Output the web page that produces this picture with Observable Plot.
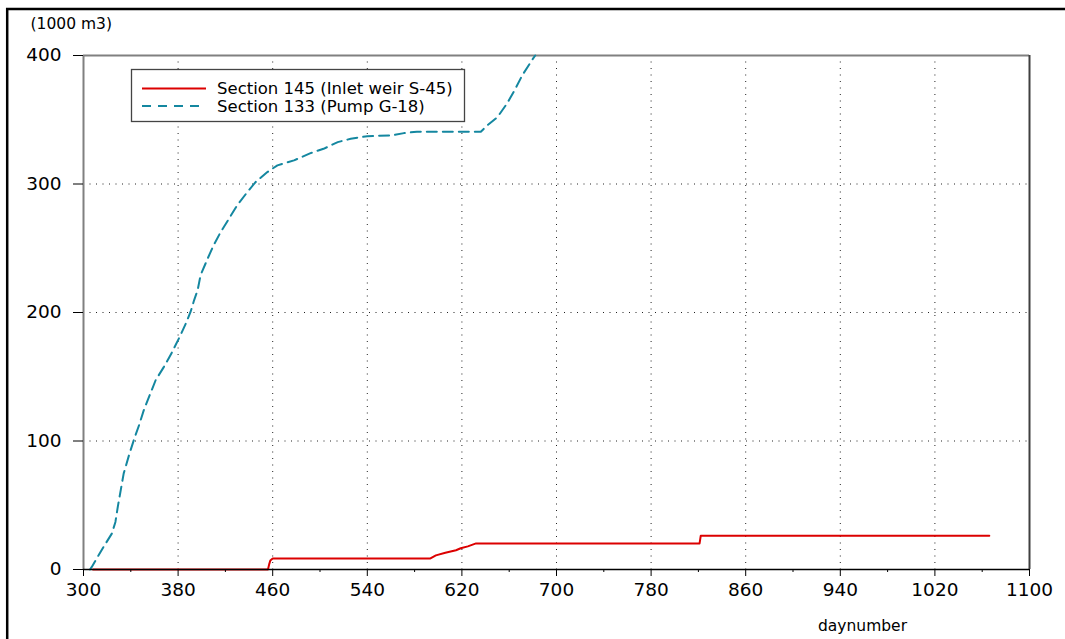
<!DOCTYPE html>
<html>
<head>
<meta charset="utf-8">
<script src="https://cdn.jsdelivr.net/npm/d3@7"></script>
<script src="https://cdn.jsdelivr.net/npm/@observablehq/plot@0.6"></script>
<style>
  html, body { margin: 0; padding: 0; background: #fff; }
  #chart { width: 1065px; height: 639px; overflow: hidden; }
</style>
</head>
<body>
<div id="chart"></div>
<script>
// Section 145 (Inlet weir S-45)
const redDays = [308, 456, 457, 458, 460, 593, 598, 606, 615, 619, 625, 632, 821, 822, 1066];
const redVals = [0, 0, 4, 7, 8.5, 8.5, 11, 13, 15, 16.5, 18, 20.3, 20.3, 26.3, 26.3];

// Section 133 (Pump G-18)
const blueDays = [305.5, 307, 317, 324, 327, 329, 331.5, 334, 338.5, 343, 347, 351, 356, 361, 368, 375, 382, 386.5, 390.5, 393.5, 396.5, 399, 405, 410, 416, 423, 430, 438.5, 445.5, 455.5, 464, 478, 492, 503, 515, 526, 540, 560, 571, 582, 636, 641.5, 650, 658, 664, 671, 680, 682];
const blueVals = [0, 2, 17.7, 28, 37, 48.8, 61.8, 74.8, 89, 102, 112.3, 124, 135.7, 147.3, 157.7, 169.3, 182.3, 191.4, 200.4, 209.5, 217.3, 229, 242, 252.3, 262.6, 273, 283.4, 293.7, 301.5, 309.3, 314.5, 318.4, 324, 327.4, 332.6, 335.2, 337.2, 337.8, 339.6, 340.7, 340.7, 345.6, 352, 362.4, 372, 384.5, 397.4, 400];

const xTicks = [300, 380, 460, 540, 620, 700, 780, 860, 940, 1020, 1100];
const xMinorTicks = [340, 420, 500, 580, 660, 740, 820, 900, 980, 1060];
const yTicks = [0, 100, 200, 300, 400];
const seriesNames = ["Section 145 (Inlet weir S-45)", "Section 133 (Pump G-18)"];
const seriesColors = ["#dc0000", "#1487a0"];
const yUnit = "(1000 m3)";
const xTitle = "daynumber";

const red = redDays.map((d, i) => ({day: d, v: redVals[i]}));
const blue = blueDays.map((d, i) => ({day: d, v: blueVals[i]}));

const chart = Plot.plot({
  width: 1065,
  height: 639,
  marginLeft: 83,
  marginRight: 36,
  marginTop: 55,
  marginBottom: 70,
  style: {fontFamily: "DejaVu Sans", fontSize: "18.5px", background: "white", overflow: "visible"},
  x: {domain: [300, 1100]},
  y: {domain: [0, 400]},
  marks: [
    Plot.gridX(xTicks.slice(1, -1), {stroke: "#222", strokeOpacity: 1, strokeDasharray: "1,5.5"}),
    Plot.gridY(yTicks.slice(1, -1), {stroke: "#222", strokeOpacity: 1, strokeDasharray: "1,5.5"}),
    Plot.ruleY([400], {stroke: "#808080", strokeWidth: 2}),
    Plot.ruleX([1100], {stroke: "#404040", strokeWidth: 2}),
    Plot.line(blue, {x: "day", y: "v", stroke: seriesColors[1], strokeWidth: 2, strokeDasharray: "10,6"}),
    Plot.line(red, {x: "day", y: "v", stroke: seriesColors[0], strokeWidth: 2}),
    Plot.ruleX([300], {stroke: "#808080", strokeWidth: 2}),
    Plot.ruleY([0], {stroke: "#000", strokeWidth: 1.5}),
    Plot.axisX(xTicks, {tickSize: 7, tickPadding: 6.5, label: null, fontSize: 18.5, tickFormat: d => String(d)}),
    Plot.axisX(xMinorTicks, {tickSize: 3, tickFormat: () => "", label: null}),
    Plot.axisY(yTicks, {tickSize: 10, tickPadding: 12, label: null, fontSize: 18.5, tickFormat: d => String(d)}),
    Plot.text([yUnit], {frameAnchor: "top-left", text: d => d, dx: -53, dy: -31, textAnchor: "start", lineAnchor: "middle", fontSize: 15.5}),
    Plot.text([xTitle], {frameAnchor: "bottom-right", text: d => d, dx: -167, dy: 57, textAnchor: "middle", lineAnchor: "middle", fontSize: 15.5})
  ]
});

document.getElementById("chart").appendChild(chart);

const svg = d3.select(chart);
// outer frame
svg.append("line").attr("x1", 6).attr("x2", 1065).attr("y1", 9).attr("y2", 9)
  .attr("stroke", "#000").attr("stroke-width", 2.5);
svg.append("line").attr("x1", 7.2).attr("x2", 7.2).attr("y1", 8).attr("y2", 639)
  .attr("stroke", "#000").attr("stroke-width", 2.5);

// legend
const lg = svg.append("g").attr("font-family", "DejaVu Sans").attr("font-size", "16.5px")
  .attr("text-anchor", "start");
lg.append("rect").attr("x", 131.5).attr("y", 69.5).attr("width", 333).attr("height", 52)
  .attr("fill", "white").attr("stroke", "#444").attr("stroke-width", 1.3);
const rowsY = [88.5, 106];
seriesNames.forEach((name, i) => {
  lg.append("line").attr("x1", 142).attr("x2", 206).attr("y1", rowsY[i]).attr("y2", rowsY[i])
    .attr("stroke", seriesColors[i]).attr("stroke-width", 2)
    .attr("stroke-dasharray", i === 1 ? "9,7" : null);
  lg.append("text").attr("x", 217).attr("y", rowsY[i]).attr("dy", "0.36em")
    .attr("text-anchor", "start").attr("fill", "#000").text(name);
});
</script>
</body>
</html>
